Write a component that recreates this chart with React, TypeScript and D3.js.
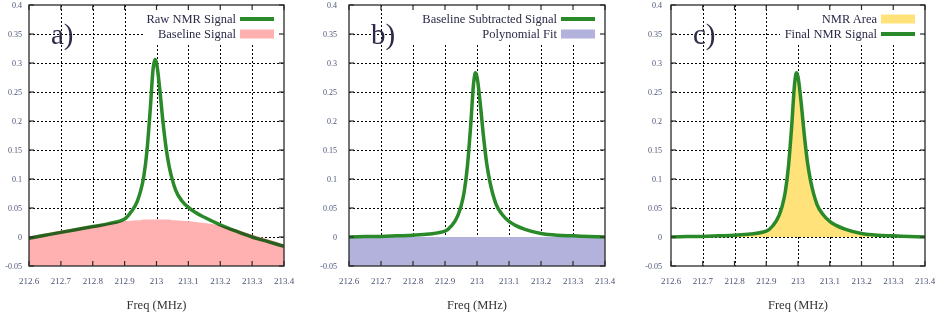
import React, { useEffect, useRef } from 'react';
import * as d3 from 'd3';

// frequency grid (MHz) the curves were read at
const freq = [
  212.6, 212.65, 212.7, 212.75, 212.8, 212.85, 212.9, 212.92, 212.94, 212.95, 212.96,
  212.97, 212.98, 212.99, 212.995, 213.0, 213.01, 213.02, 213.03, 213.04, 213.05, 213.06,
  213.08, 213.1, 213.12, 213.15, 213.2, 213.25, 213.3, 213.35, 213.4,
];

const rawSignal = [
  -0.002, 0.003, 0.008, 0.013, 0.018, 0.023, 0.031, 0.043, 0.062, 0.079, 0.104,
  0.148, 0.217, 0.293, 0.306, 0.3, 0.256, 0.2, 0.154, 0.121, 0.098, 0.081,
  0.062, 0.051, 0.043, 0.034, 0.021, 0.01, 0.0, -0.008, -0.016,
];

const baselineSignal = [
  0.001, 0.006, 0.011, 0.016, 0.02, 0.024, 0.027, 0.028, 0.029, 0.029, 0.03,
  0.03, 0.03, 0.03, 0.03, 0.03, 0.03, 0.03, 0.03, 0.03, 0.029, 0.029,
  0.028, 0.027, 0.026, 0.024, 0.02, 0.013, 0.004, -0.004, -0.013,
];

const subtractedSignal = [
  0.0, 0.001, 0.001, 0.002, 0.003, 0.005, 0.01, 0.019, 0.037, 0.053, 0.078,
  0.122, 0.19, 0.268, 0.283, 0.276, 0.231, 0.175, 0.128, 0.096, 0.073, 0.056,
  0.038, 0.027, 0.02, 0.013, 0.006, 0.003, 0.002, 0.001, 0.0,
];

const polyFreq = [212.6, 213.4];
const polyFit = [0, 0];

const xTicks = [212.6, 212.7, 212.8, 212.9, 213.0, 213.1, 213.2, 213.3, 213.4];
const xTickLabels = ['212.6', '212.7', '212.8', '212.9', '213', '213.1', '213.2', '213.3', '213.4'];
const yTicks = [-0.05, 0, 0.05, 0.1, 0.15, 0.2, 0.25, 0.3, 0.35, 0.4];
const yTickLabels = ['-0.05', '0', '0.05', '0.1', '0.15', '0.2', '0.25', '0.3', '0.35', '0.4'];

const GREEN = '#2a8a2a';
const PINK = '#ffb0b0';
const PURPLE = '#b2b2dc';
const YELLOW = '#ffe27a';
const TEXT = '#2b2a48';
const SERIF = '"Liberation Serif", "DejaVu Serif", serif';

const crisp = (v: number) => Math.round(v) + 0.5;

const App = () => {
  const ref = useRef<SVGSVGElement | null>(null);

  useEffect(() => {
    const svg = d3.select(ref.current);
    svg.selectAll('*').remove();

    const top = 5;
    const bottom = 266;
    const panels = [
      { id: 'a', left: 29, right: 284, legendLeft: 143, labelGap: 7,
        legend: [{ text: 'Raw NMR Signal', kind: 'line', color: GREEN }, { text: 'Baseline Signal', kind: 'box', color: PINK }] },
      { id: 'b', left: 349, right: 605, legendLeft: 392, labelGap: 12,
        legend: [{ text: 'Baseline Subtracted Signal', kind: 'line', color: GREEN }, { text: 'Polynomial Fit', kind: 'box', color: PURPLE }] },
      { id: 'c', left: 671, right: 925, legendLeft: 780, labelGap: 9,
        legend: [{ text: 'NMR Area', kind: 'box', color: YELLOW }, { text: 'Final NMR Signal', kind: 'line', color: GREEN }] },
    ];

    const y = d3.scaleLinear().domain([-0.05, 0.4]).range([bottom, top]);

    panels.forEach((p) => {
      const x = d3.scaleLinear().domain([212.6, 213.4]).range([p.left, p.right]);
      const g = svg.append('g');

      g.append('clipPath')
        .attr('id', `clip-${p.id}`)
        .append('rect')
        .attr('x', p.left)
        .attr('y', top)
        .attr('width', p.right - p.left)
        .attr('height', bottom - top);

      // dotted grid
      g.selectAll('.vgrid')
        .data(xTicks.slice(1, -1))
        .enter()
        .append('line')
        .attr('x1', (d) => crisp(x(d)))
        .attr('x2', (d) => crisp(x(d)))
        .attr('y1', top)
        .attr('y2', bottom)
        .attr('stroke', '#000')
        .attr('stroke-width', 1)
        .attr('stroke-dasharray', '2,2');
      g.selectAll('.hgrid')
        .data(yTicks.slice(1, -1))
        .enter()
        .append('line')
        .attr('x1', p.left)
        .attr('x2', p.right)
        .attr('y1', (d) => crisp(y(d)))
        .attr('y2', (d) => crisp(y(d)))
        .attr('stroke', '#000')
        .attr('stroke-width', 1)
        .attr('stroke-dasharray', '2,2');

      // legend background hides the grid behind it
      g.append('rect')
        .attr('x', p.legendLeft)
        .attr('y', top + 1)
        .attr('width', p.right - p.legendLeft - 1)
        .attr('height', 38)
        .attr('fill', 'white');

      const plot = g.append('g').attr('clip-path', `url(#clip-${p.id})`);
      const line = d3.line<number>()
        .x((_, i) => x(freq[i]))
        .y((d) => y(d))
        .curve(d3.curveMonotoneX);

      if (p.id === 'a') {
        plot.append('path')
          .attr('d', line(rawSignal))
          .attr('fill', 'none')
          .attr('stroke', GREEN)
          .attr('stroke-width', 3.5);
        const area = d3.area<number>()
          .x((_, i) => x(freq[i]))
          .y0(y(-0.05))
          .y1((d) => y(d))
          .curve(d3.curveMonotoneX);
        plot.append('path')
          .attr('d', area(baselineSignal))
          .attr('fill', PINK)
          .style('mix-blend-mode', 'multiply');
      } else if (p.id === 'b') {
        const area = d3.area<number>()
          .x((_, i) => x(polyFreq[i]))
          .y0(y(-0.05))
          .y1((d) => y(d));
        plot.append('path')
          .attr('d', area(polyFit))
          .attr('fill', PURPLE)
          .style('mix-blend-mode', 'multiply');
        plot.append('path')
          .attr('d', line(subtractedSignal))
          .attr('fill', 'none')
          .attr('stroke', GREEN)
          .attr('stroke-width', 3.5);
      } else {
        const area = d3.area<number>()
          .x((_, i) => x(freq[i]))
          .y0(y(0))
          .y1((d) => y(d))
          .curve(d3.curveMonotoneX);
        plot.append('path')
          .attr('d', area(subtractedSignal))
          .attr('fill', YELLOW)
          .style('mix-blend-mode', 'multiply');
        plot.append('path')
          .attr('d', line(subtractedSignal))
          .attr('fill', 'none')
          .attr('stroke', GREEN)
          .attr('stroke-width', 3.5);
      }

      // border and inward ticks on all sides
      g.append('rect')
        .attr('x', p.left)
        .attr('y', top)
        .attr('width', p.right - p.left)
        .attr('height', bottom - top)
        .attr('fill', 'none')
        .attr('stroke', '#2a2a2a')
        .attr('stroke-width', 1.3);
      xTicks.forEach((t) => {
        g.append('line').attr('x1', x(t)).attr('x2', x(t)).attr('y1', bottom).attr('y2', bottom - 5)
          .attr('stroke', '#2a2a2a').attr('stroke-width', 1.2);
        g.append('line').attr('x1', x(t)).attr('x2', x(t)).attr('y1', top).attr('y2', top + 5)
          .attr('stroke', '#2a2a2a').attr('stroke-width', 1.2);
      });
      yTicks.forEach((t) => {
        g.append('line').attr('x1', p.left).attr('x2', p.left + 5).attr('y1', y(t)).attr('y2', y(t))
          .attr('stroke', '#2a2a2a').attr('stroke-width', 1.2);
        g.append('line').attr('x1', p.right).attr('x2', p.right - 5).attr('y1', y(t)).attr('y2', y(t))
          .attr('stroke', '#2a2a2a').attr('stroke-width', 1.2);
      });

      // tick labels
      g.selectAll('.ylab')
        .data(yTicks)
        .enter()
        .append('text')
        .attr('x', p.left - p.labelGap)
        .attr('y', (d) => y(d) + 3)
        .attr('text-anchor', 'end')
        .attr('font-family', SERIF)
        .attr('font-size', 8)
        .attr('fill', '#4a5478')
        .text((_, i) => yTickLabels[i]);
      g.selectAll('.xlab')
        .data(xTicks)
        .enter()
        .append('text')
        .attr('x', (d) => x(d))
        .attr('y', 284)
        .attr('text-anchor', 'middle')
        .attr('font-family', SERIF)
        .attr('font-size', 9)
        .attr('fill', '#4a5478')
        .text((_, i) => xTickLabels[i]);
      g.append('text')
        .attr('x', (p.left + p.right) / 2)
        .attr('y', 309)
        .attr('text-anchor', 'middle')
        .attr('font-family', SERIF)
        .attr('font-size', 12.5)
        .attr('fill', '#333')
        .text('Freq (MHz)');

      // panel letter
      g.append('text')
        .attr('x', p.left + 22)
        .attr('y', 44)
        .attr('font-family', SERIF)
        .attr('font-size', 29)
        .attr('fill', TEXT)
        .text(`${p.id})`);

      // legend
      p.legend.forEach((item, i) => {
        const cy = 19 + i * 15;
        g.append('text')
          .attr('x', p.right - 48)
          .attr('y', cy + 4)
          .attr('text-anchor', 'end')
          .attr('font-family', SERIF)
          .attr('font-size', 12.5)
          .attr('fill', TEXT)
          .text(item.text);
        if (item.kind === 'line') {
          g.append('line')
            .attr('x1', p.right - 44)
            .attr('x2', p.right - 10)
            .attr('y1', cy)
            .attr('y2', cy)
            .attr('stroke', item.color)
            .attr('stroke-width', 4);
        } else {
          g.append('rect')
            .attr('x', p.right - 44)
            .attr('y', cy - 4.5)
            .attr('width', 34)
            .attr('height', 9)
            .attr('fill', item.color);
        }
      });
    });
  }, []);

  return (
    <svg
      ref={ref}
      width={935}
      height={318}
      style={{ position: 'absolute', left: 0, top: 0, background: 'white' }}
    />
  );
};

export default App;
